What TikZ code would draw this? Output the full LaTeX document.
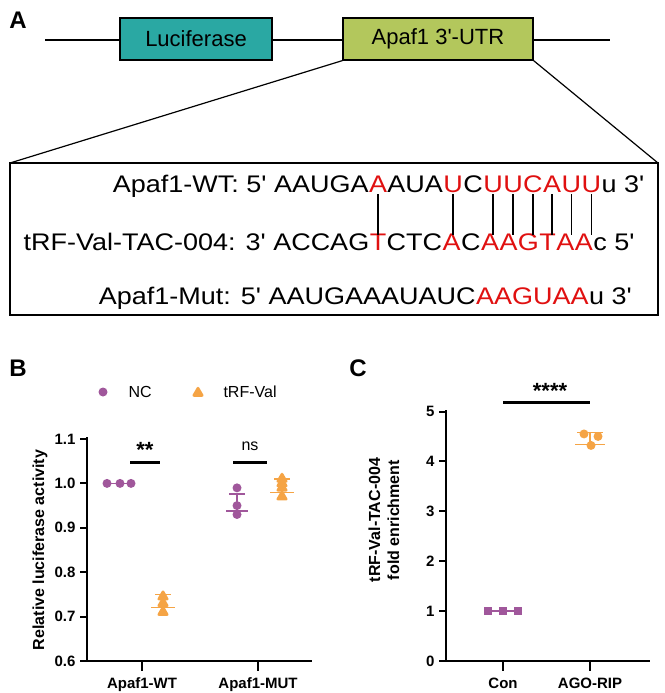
\documentclass[tikz,border=0pt]{standalone}
\usepackage{fontspec}
\setmainfont{Liberation Sans}
\newfontfamily\plainfont{Liberation Sans}
\usetikzlibrary{shapes.geometric}
\definecolor{teal1}{HTML}{2AA8A3}
\definecolor{olive1}{HTML}{B3C75C}
\definecolor{nc}{HTML}{A0579B}
\definecolor{trf}{HTML}{F5A445}
\definecolor{rd}{HTML}{E01010}
\begin{document}
\begin{tikzpicture}[x=1pt,y=-1pt,
  seq/.style={inner sep=0pt,font=\plainfont\fontsize{24}{28}\selectfont,xscale=1.125},
  r/.style={seq,text=rd},
  gene/.style={draw=black,line width=1.2pt,minimum height=42pt,font=\plainfont\fontsize{22}{26}\selectfont,inner sep=0pt},
  panel/.style={font=\bfseries\fontsize{24}{28}\selectfont},
  axis/.style={line width=2.6pt},
  tick/.style={font=\bfseries\fontsize{15}{18}\selectfont},
  ncdot/.style={circle,fill=nc,inner sep=0pt,minimum size=9pt},
  ncsq/.style={rectangle,fill=nc,inner sep=0pt,minimum size=8pt},
  trfdot/.style={regular polygon,regular polygon sides=3,fill=trf,inner sep=0pt,minimum size=15pt,rounded corners=2.5pt},
  trfc/.style={circle,fill=trf,inner sep=0pt,minimum size=9pt},
  err/.style={line width=1.5pt}]
\useasboundingbox (0,0) rectangle (664,693);
% Panel A
\node[panel] (pa) at (18,20) {A};
\coordinate (l0) at (45,40);
\coordinate (l1) at (610,40);
\draw[line width=1.2pt] (l0) -- (l1);
\node[gene,fill=teal1,minimum width=152pt] (luc) at (196,39) {Luciferase};
\node[gene,fill=olive1,minimum width=190pt] (utr) at (438,39) {Apaf1 3'-UTR};
\draw[line width=1.2pt] (10,163) rectangle (658,315);
\draw[line width=1.2pt] (utr.south west) -- (10,163);
\draw[line width=1.2pt] (utr.south east) -- (658,163);
% WT
\node[r,anchor=base] (w1) at (378,192) {A};
\node[seq,anchor=base east] (w0) at (w1.base west) {Apaf1-WT: 5' AAUGA};
\node[seq,anchor=base west] (w1b) at (w1.base east) {AUA};
\node[r,anchor=base west] (w2) at (w1b.base east) {U};
\node[seq,anchor=base west] (w2b) at (w2.base east) {C};
\node[r,anchor=base west] (w3) at (w2b.base east) {U};
\node[r,anchor=base west] (w4) at (w3.base east) {U};
\node[r,anchor=base west] (w5) at (w4.base east) {C};
\node[r,anchor=base west] (w6) at (w5.base east) {A};
\node[r,anchor=base west] (w7) at (w6.base east) {U};
\node[r,anchor=base west] (w8) at (w7.base east) {U};
\node[seq,anchor=base west] (w9) at (w8.base east) {u 3'};
% tRF
\node[r,anchor=base] (t1) at (378,250) {T};
\node[seq,anchor=base east] (t0) at (t1.base west) {tRF-Val-TAC-004: 3' ACCAG};
\node[seq,anchor=base west] (t1b) at (t1.base east) {CTC};
\node[r,anchor=base west] (t2) at (t1b.base east) {A};
\node[seq,anchor=base west] (t2b) at (t2.base east) {C};
\node[r,anchor=base west] (t3) at (t2b.base east) {A};
\node[r,anchor=base west] (t4) at (t3.base east) {A};
\node[r,anchor=base west] (t5) at (t4.base east) {G};
\node[r,anchor=base west] (t6) at (t5.base east) {T};
\node[r,anchor=base west] (t7) at (t6.base east) {A};
\node[r,anchor=base west] (t8) at (t7.base east) {A};
\node[seq,anchor=base west] (t9) at (t8.base east) {c 5'};
\foreach \i in {1,...,8}{
  \draw[line width=1.6pt] ([yshift=-2pt]w\i.south) -- ([yshift=-2pt]w\i.south |- t\i.north);
}
% Mut
\node[seq,anchor=base east] (m2) at (632,304) {u 3'};
\node[r,anchor=base east] (m1) at (m2.base west) {AAGUAA};
\node[seq,anchor=base east] (m0) at (m1.base west) {Apaf1-Mut: 5' AAUGAAAUAUC};
% Panel B
\node[panel] (pb) at (18,368) {B};
\node[ncdot] (lgn) at (103,392) {};
\node[anchor=west,font=\fontsize{16}{18}\selectfont] (lgnt) at (125,392) {NC};
\node[trfdot] (lgt) at (198,393) {};
\node[anchor=west,font=\fontsize{16}{18}\selectfont] (lgtt) at (220,392) {tRF-Val};
\coordinate (bo) at (87,661);
\coordinate (bt) at (87,437);
\coordinate (bx) at (312,661);
\draw[axis] (bt) -- (bo) -- (bx);
\foreach \v/\l in {0.6/0.6,0.7/0.7,0.8/0.8,0.9/0.9,1.0/1.0,1.1/1.1}{
  \pgfmathsetmacro{\yy}{661-(\v-0.6)*444}
  \draw[line width=2pt] (80,\yy) -- (87,\yy);
  \node[tick,anchor=east] at (79,\yy) {\l};
}
\draw[line width=2pt] (142,661) -- (142,671);
\draw[line width=2pt] (258,661) -- (258,671);
\node[tick,anchor=north] (xb1) at (142,674) {Apaf1-WT};
\node[tick,anchor=north] (xb2) at (258,674) {Apaf1-MUT};
\node[font=\bfseries\fontsize{16}{19}\selectfont,rotate=90] (ylb) at (40,550) {Relative luciferase activity};
\newcommand{\Y}[1]{661-(#1-0.6)*444}
% NC WT
\draw[nc,err] (104,{\Y{1.0}}) -- (134,{\Y{1.0}});
\foreach \x in {107,120,131} \node[ncdot] at (\x,{\Y{1.0}}) {};
% tRF WT
\foreach \v in {0.71,0.73,0.745} \node[trfdot] at (163,{\Y{\v}}) {};
\draw[trf,err] (163,{\Y{0.72}}) -- (163,{\Y{0.75}});
\draw[trf,err] (155,{\Y{0.75}}) -- (171,{\Y{0.75}});
\draw[trf,err] (151,{\Y{0.72}}) -- (175,{\Y{0.72}});
% NC MUT
\draw[nc,err] (237,{\Y{0.938}}) -- (237,{\Y{0.976}});
\draw[nc,err] (229,{\Y{0.976}}) -- (245,{\Y{0.976}});
\draw[nc,err] (226,{\Y{0.938}}) -- (248,{\Y{0.938}});
\foreach \v in {0.99,0.95,0.93} \node[ncdot] at (237,{\Y{\v}}) {};
% tRF MUT
\foreach \v in {0.97,0.99,1.0,1.01} \node[trfdot] at (282,{\Y{\v}}) {};
\draw[trf,err] (282,{\Y{0.98}}) -- (282,{\Y{1.01}});
\draw[trf,err] (274,{\Y{1.01}}) -- (290,{\Y{1.01}});
\draw[trf,err] (270,{\Y{0.98}}) -- (294,{\Y{0.98}});
% significance B
\draw[line width=3pt] (130,462) -- (160,462);
\node[font=\bfseries\fontsize{22}{22}\selectfont] (s1) at (145,450) {**};
\draw[line width=3pt] (233,462) -- (267,462);
\node[font=\fontsize{16}{18}\selectfont] (s2) at (250,446) {ns};
% Panel C
\node[panel] (pc) at (358,368) {C};
\coordinate (co) at (446,661);
\coordinate (ct) at (446,410);
\coordinate (cx) at (650,661);
\draw[axis] (ct) -- (co) -- (cx);
\foreach \v in {0,...,5}{
  \pgfmathsetmacro{\yy}{661-\v*49.9}
  \draw[line width=2pt] (439,\yy) -- (446,\yy);
  \node[tick,anchor=east] at (438,\yy) {\v};
}
\draw[line width=2pt] (503,661) -- (503,671);
\draw[line width=2pt] (590,661) -- (590,671);
\node[tick,anchor=north] (xc1) at (503,674) {Con};
\node[tick,anchor=north] (xc2) at (590,674) {AGO-RIP};
\node[font=\bfseries\fontsize{16}{19}\selectfont,rotate=90,align=center] (ylc) at (384,520) {tRF-Val-TAC-004\\fold enrichment};
\newcommand{\C}[1]{661-#1*49.9}
\draw[nc,err] (488,{\C{1.0}}) -- (518,{\C{1.0}});
\foreach \x in {488,503,518} \node[ncsq] at (\x,{\C{1.0}}) {};
\draw[trf,err] (590,{\C{4.34}}) -- (590,{\C{4.58}});
\draw[trf,err] (577,{\C{4.58}}) -- (603,{\C{4.58}});
\draw[trf,err] (575,{\C{4.34}}) -- (605,{\C{4.34}});
\node[trfc] at (584,{\C{4.55}}) {};
\node[trfc] at (598,{\C{4.5}}) {};
\node[trfc] at (591,{\C{4.32}}) {};
\draw[line width=3pt] (503,402) -- (590,402);
\node[font=\bfseries\fontsize{22}{22}\selectfont] (s3) at (550,391) {****};
\end{tikzpicture}
\end{document}
